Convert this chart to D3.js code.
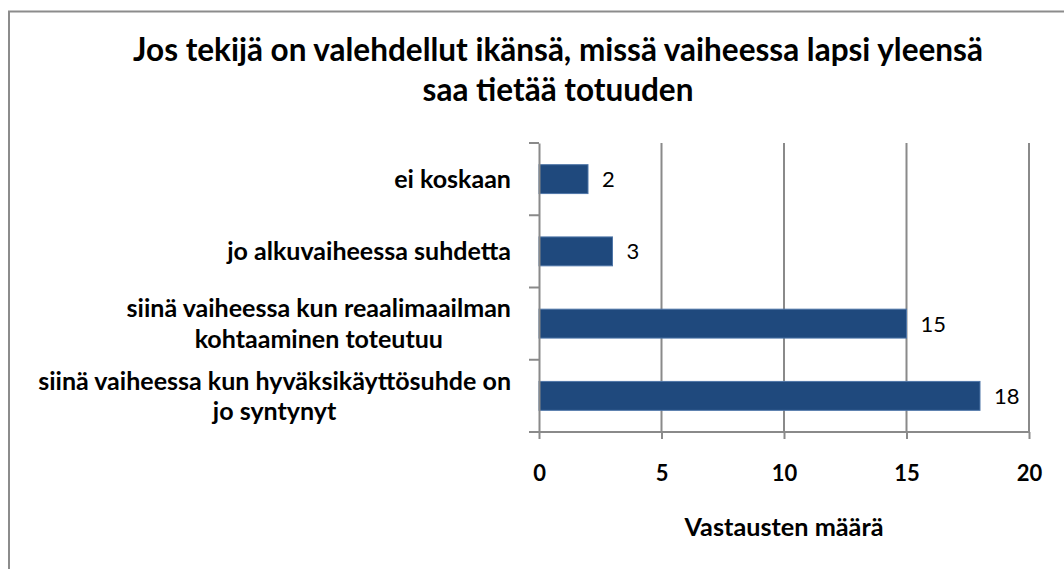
<!DOCTYPE html>
<html>
<head>
<meta charset="utf-8">
<script src="https://cdn.jsdelivr.net/npm/d3@7"></script>
<style>
  html, body { margin: 0; padding: 0; background: #fff; }
  svg { display: block; }
  text { font-family: Lato, "Open Sans", sans-serif; fill: #000; }
</style>
</head>
<body>
<svg id="chart" width="1064" height="569"></svg>
<script>
// ---- data ----
const titleLines = ["Jos tekijä on valehdellut ikänsä, missä vaiheessa lapsi yleensä", "saa tietää totuuden"];
const categories = ["ei koskaan", "jo alkuvaiheessa suhdetta", "siinä vaiheessa kun reaalimaailman kohtaaminen toteutuu", "siinä vaiheessa kun hyväksikäyttösuhde on jo syntynyt"];
const categoryLines = [
  ["ei koskaan"],
  ["jo alkuvaiheessa suhdetta"],
  ["siinä vaiheessa kun reaalimaailman", "kohtaaminen toteutuu"],
  ["siinä vaiheessa kun hyväksikäyttösuhde on", "jo syntynyt"]
];
const values = [2, 3, 15, 18];
const xTicks = [0, 5, 10, 15, 20];
const xAxisTitle = "Vastausten määrä";

// ---- layout ----
const svg = d3.select("#chart");
const plot = { left: 539, right: 1029, top: 143, bottom: 432 };
const gridColor = "#8a8a8a";

// border
svg.append("rect")
  .attr("x", 9).attr("y", 11.5).attr("width", 1200).attr("height", 700)
  .attr("fill", "none").attr("stroke", "#8c8c8c").attr("stroke-width", 2);

// font fitting helper
function fitSize(str, weight, targetW) {
  const t = svg.append("text").attr("font-size", 100).attr("font-weight", weight).text(str);
  const w = t.node().getComputedTextLength();
  t.remove();
  return 100 * targetW / w;
}
const titleSize = fitSize(titleLines[0], "bold", 850);
const catSize = fitSize(categoryLines[3][0], "bold", 473);
const axisTitleSize = fitSize(xAxisTitle, "bold", 199);
const tickSize = 22;
const valueSize = 22;

// scales
const x = d3.scaleLinear().domain([0, 20]).range([plot.left, plot.right]);
const y = d3.scaleBand().domain(categories).range([plot.top, plot.bottom]).paddingInner(0.6).paddingOuter(0.3);
const yb = d3.scaleBand().domain(categories).range([plot.top, plot.bottom]);

// gridlines
svg.append("g").selectAll("line").data(xTicks.slice(1)).join("line")
  .attr("x1", d => x(d)).attr("x2", d => x(d))
  .attr("y1", plot.top).attr("y2", plot.bottom)
  .attr("stroke", gridColor).attr("stroke-width", 2);

// bars
svg.append("g").selectAll("rect").data(values).join("rect")
  .attr("x", x(0))
  .attr("y", (d, i) => y(categories[i]))
  .attr("width", d => x(d) - x(0))
  .attr("height", y.bandwidth())
  .attr("fill", "#1f497d")
  .attr("stroke", "#4f76a8").attr("stroke-width", 1);

// value labels
svg.append("g").selectAll("text").data(values).join("text")
  .attr("x", d => x(d) + 14)
  .attr("y", (d, i) => yb(categories[i]) + yb.bandwidth() / 2)
  .attr("dy", "0.36em")
  .attr("font-size", valueSize)
  .text(d => d);

// y axis
const yAxis = d3.axisLeft(yb).tickSize(0).tickFormat("");
const gy = svg.append("g").attr("transform", `translate(${plot.left},0)`).call(yAxis);
gy.select(".domain").attr("stroke", gridColor).attr("stroke-width", 2);
// tick marks at band boundaries
const boundaries = categories.map(c => yb(c)).concat([plot.bottom]);
svg.append("g").selectAll("line").data(boundaries).join("line")
  .attr("x1", plot.left - 10).attr("x2", plot.left)
  .attr("y1", d => d).attr("y2", d => d)
  .attr("stroke", gridColor).attr("stroke-width", 2);

// category labels
const lineH = catSize * 1.22;
categoryLines.forEach((lines, i) => {
  const cy = yb(categories[i]) + yb.bandwidth() / 2;
  const t = svg.append("text").attr("font-size", catSize).attr("font-weight", "bold").attr("text-anchor", "middle");
  const widths = lines.map(l => {
    const m = svg.append("text").attr("font-size", catSize).attr("font-weight", "bold").text(l);
    const w = m.node().getComputedTextLength(); m.remove(); return w;
  });
  const blockW = d3.max(widths);
  const cx = 511 - blockW / 2;
  const startY = cy - (lines.length - 1) * lineH / 2;
  lines.forEach((l, j) => {
    t.append("tspan").attr("x", cx).attr("y", startY + j * lineH).attr("dy", "0.36em").text(l);
  });
});

// x axis
const xAxis = d3.axisBottom(x).tickValues(xTicks).tickSize(7).tickPadding(26);
const gx = svg.append("g").attr("transform", `translate(0,${plot.bottom})`).call(xAxis);
gx.select(".domain").attr("stroke", gridColor).attr("stroke-width", 2).attr("d", `M${plot.left},0H${plot.right}`);
gx.selectAll(".tick line").attr("stroke", gridColor).attr("stroke-width", 2);
gx.selectAll(".tick text")
  .attr("font-family", "Lato, 'Open Sans', sans-serif")
  .attr("font-size", tickSize).attr("font-weight", "bold").attr("fill", "#000");

// axis title
svg.append("text")
  .attr("x", (plot.left + plot.right) / 2).attr("y", 536)
  .attr("text-anchor", "middle").attr("font-size", axisTitleSize).attr("font-weight", "bold")
  .text(xAxisTitle);

// chart title
const tt = svg.append("text").attr("text-anchor", "middle").attr("font-size", titleSize).attr("font-weight", "bold");
titleLines.forEach((l, j) => {
  tt.append("tspan").attr("x", 558).attr("y", 61 + j * 40).text(l);
});
</script>
</body>
</html>
